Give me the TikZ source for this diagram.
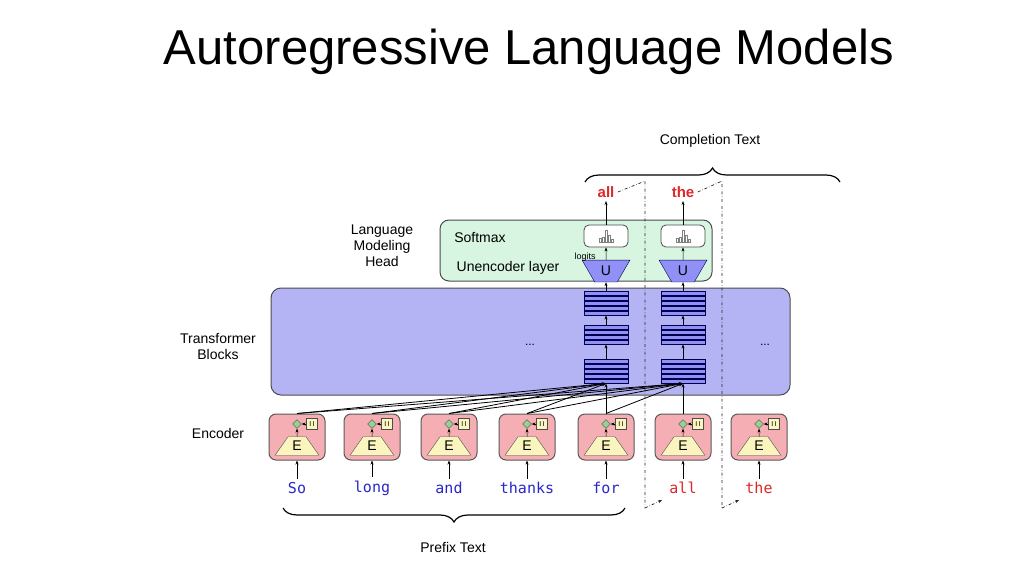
\documentclass[tikz,border=0pt]{standalone}
\usepackage{fontspec}
\setmainfont{Liberation Sans}
\newfontfamily\codefont{DejaVu Sans Mono}
\usetikzlibrary{positioning,calc,shapes.geometric,decorations.pathreplacing,arrows.meta}
\definecolor{encred}{RGB}{245,175,180}
\definecolor{encyel}{RGB}{250,245,190}
\definecolor{blkblue}{RGB}{180,180,245}
\definecolor{headgreen}{RGB}{215,245,225}
\definecolor{wordblue}{RGB}{40,40,200}
\definecolor{wordred}{RGB}{220,40,40}

\begin{document}
\begin{tikzpicture}[x=1pt,y=-1pt,
	lbl/.style={font=\fontsize{14}{16}\selectfont,align=center},
	arr/.style={-{Stealth[length=4pt]},line width=0.5pt},
	encbox/.style={draw=gray!70!black,fill=encred,rounded corners=7pt,minimum width=56pt,minimum height=46pt,line width=1pt},
	layer/.style={draw=blue!30!black,fill=blkblue!80!blue,minimum width=44pt,minimum height=4pt,inner sep=0pt,line width=0.9pt},
	pword/.style={font=\codefont\fontsize{15}{17}\selectfont,text=wordblue},
	cword/.style={font=\codefont\fontsize{15}{17}\selectfont,text=wordred},
	dd/.style={dash dot,line width=0.7pt,gray!30!black}
	]
	\useasboundingbox (0,0) rectangle (1024,575);
	\fill[white] (0,0) rectangle (1024,575);
	
	% title
	\node (title) at (529,52) {\fontsize{49}{52}\selectfont Autoregressive Language Models};
	
	% transformer blocks and head
	\node[draw=gray!60!black,fill=blkblue,rounded corners=10pt,minimum width=519pt,minimum height=107pt,line width=1pt] (blocks) at (530.5,341.5) {};
	\node[draw=gray!60!black,fill=headgreen,rounded corners=9pt,minimum width=272pt,minimum height=61pt,line width=1pt] (head) at (576,250.5) {};
	\node[lbl] (softmax) at (480,238) {Softmax};
	\node[lbl] (unenc) at (508,268) {Unencoder layer};
	\node[lbl] (lmh) at (382,246) {Language\\Modeling\\Head};
	\node[lbl] (tbl) at (218,346) {Transformer\\Blocks};
	\node[lbl] (encl) at (218,433) {Encoder};
	\node[font=\large] (dots1) at (530,345) {...};
	\node[font=\large] (dots2) at (765,345) {...};
	
	% encoders
	\foreach \i/\x/\w/\st in {1/297/So/pword,2/372/long/pword,3/449/and/pword,4/527/thanks/pword,5/606/for/pword,6/683/all/cword,7/759/the/cword}{
		\node[encbox] (enc\i) at (\x,437) {};
		\node[trapezium,trapezium angle=55,draw=black!70,fill=encyel,minimum width=44pt,minimum height=16pt,inner sep=0pt,font=\fontsize{14}{14}\selectfont] (emb\i) at (\x,446) {E};
		\node[diamond,draw=black!70,fill=green!40!gray!60,inner sep=2.2pt,font=\tiny] (sum\i) at (\x,424) {};
		\node[draw=black!70,fill=encyel,minimum size=11pt,inner sep=0pt,font=\scriptsize] (pos\i) at ($(\x,424)+(15,0)$) {I\,I};
		\node[\st] (w\i) at (\x,488) {\w};
		\draw[arr] (w\i) -- (enc\i.south);
		\draw[arr,line width=0.5pt] (emb\i) -- (sum\i);
		\draw[arr,line width=0.5pt] (pos\i) -- (sum\i);
	}
	
	% layer stacks, logits and outputs
	\foreach \c/\x/\o in {a/606/all,b/683/the}{
		\foreach \y/\n in {293/1,298/2,303/3,308/4,313/5}{\node[layer] (l3\c\n) at (\x,\y) {};}
		\foreach \y/\n in {327/1,332/2,337/3,342/4}{\node[layer] (l2\c\n) at (\x,\y) {};}
		\foreach \y/\n in {361/1,366/2,371/3,376/4,381/5}{\node[layer] (l1\c\n) at (\x,\y) {};}
		\node[trapezium,shape border rotate=180,trapezium angle=60,draw=blue!30!black,fill=blkblue!80!blue,minimum width=48pt,minimum height=14pt,inner sep=0pt,font=\fontsize{14}{14}\selectfont] (un\c) at (\x,271) {U};
		\node[draw=gray!60!black,fill=white,rounded corners=5pt,minimum width=44pt,minimum height=22pt,line width=0.8pt] (sm\c) at (\x,236) {};
		\foreach \dx/\h in {-6/4,-3/5,0/12,3/7,6/3}{\draw[gray] ($(sm\c.center)+(\dx-1,6)$) rectangle ++(2,-\h);}
		\node[cword,font=\fontsize{15}{17}\selectfont\bfseries] (out\c) at (\x,192) {\o};
		\draw[arr] (l1\c1) -- (l2\c4);
		\draw[arr] (l2\c1) -- (l3\c5);
		\draw[arr] (l3\c1) -- (un\c);
		\draw[arr] (un\c) -- (sm\c);
		\draw[arr] (sm\c) -- (out\c);
	}
	\node[font=\fontsize{9}{10}\selectfont] (logits) at (585,257) {logits};
	
	% fan-in from encoders
	\foreach \i in {1,...,5}{\draw[arr,line width=0.8pt] (enc\i.north) -- (l1a5.south);}
	\foreach \i in {1,...,6}{\draw[arr,line width=0.8pt] (enc\i.north) -- (l1b5.south);}
	
	% feedback of outputs
	\coordinate (fa1) at (645,181);
	\coordinate (fa2) at (645,508);
	\coordinate (fa3) at (662,500);
	\draw[dd] (outa.east) -- (fa1) -- (fa2);
	\draw[dd,-{Stealth[length=4pt]}] (fa2) -- (fa3);
	\coordinate (fb1) at (722,181);
	\coordinate (fb2) at (722,508);
	\coordinate (fb3) at (739,500);
	\draw[dd] (outb.east) -- (fb1) -- (fb2);
	\draw[dd,-{Stealth[length=4pt]}] (fb2) -- (fb3);
	
	% braces
	\coordinate (cb1) at (585,182);
	\coordinate (cb2) at (840,182);
	\draw[decorate,decoration={brace,amplitude=14pt},line width=1.2pt] (cb1) -- (cb2);
	\node[lbl] (comp) at (710,141) {Completion Text};
	\coordinate (pb1) at (625,508);
	\coordinate (pb2) at (283,508);
	\draw[decorate,decoration={brace,amplitude=14pt},line width=1.2pt] (pb1) -- (pb2);
	\node[lbl] (pref) at (453,547) {Prefix Text};
\end{tikzpicture}
\end{document}
